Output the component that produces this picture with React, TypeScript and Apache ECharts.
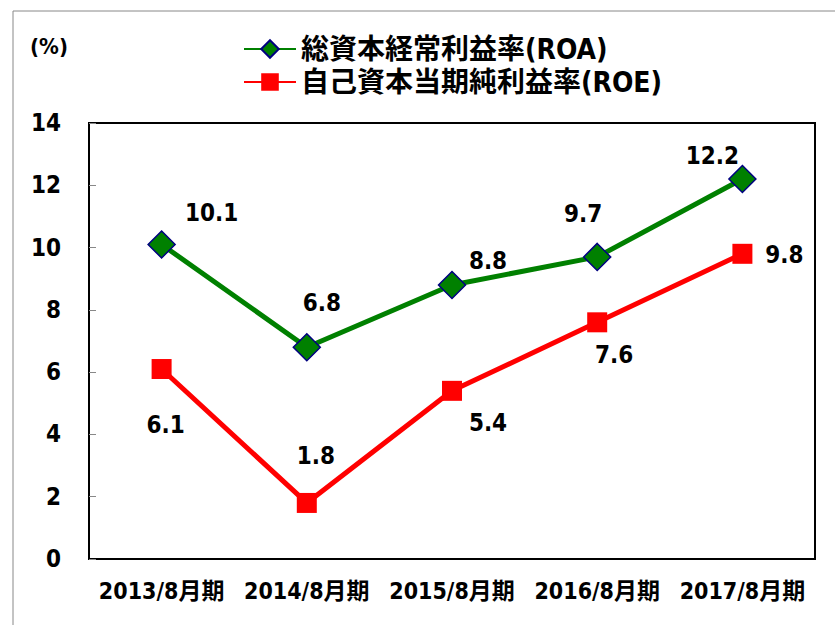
import React, { useEffect, useRef } from "react";
import * as echarts from "echarts";

const categories = ["2013/8月期", "2014/8月期", "2015/8月期", "2016/8月期", "2017/8月期"];
const roaName = "総資本経常利益率(ROA)";
const roeName = "自己資本当期純利益率(ROE)";
const roaValues = [10.1, 6.8, 8.8, 9.7, 12.2];
const roeValues = [6.1, 1.8, 5.4, 7.6, 9.8];
const roaLabelOffsets = [[50, -31], [15, -44], [36, -24], [-14, -43], [-30, -23]];
const roeLabelOffsets = [[4, 56], [9, -47], [36, 32], [17, 33], [42, 1]];

const FONT = "'Liberation Sans Narrow', 'DejaVu Sans Condensed', 'Noto Sans CJK JP', sans-serif";

export default function App() {
  const ref = useRef<HTMLDivElement>(null);
  useEffect(() => {
    if (!ref.current) return;
    const chart = echarts.init(ref.current, null, { renderer: "svg" });
    const labelStyle = { fontFamily: FONT, fontWeight: "bold" as const, fontSize: 24, color: "#000" };
    chart.setOption({
      animation: false,
      backgroundColor: "#fff",
      textStyle: { fontFamily: FONT },
      grid: { left: 89, right: 20, top: 123, bottom: 66, show: true, borderColor: "#000", borderWidth: 2, backgroundColor: "transparent" },
      legend: {
        orient: "vertical",
        left: 238,
        top: 30,
        itemWidth: 52,
        itemHeight: 22,
        itemGap: 5,
        textStyle: { fontFamily: FONT, fontWeight: "bold", fontSize: 28, color: "#000" },
        data: [roaName, roeName],
      },
      graphic: [
        { type: "rect", shape: { x: 13, y: 11, width: 1000, height: 1000 }, style: { fill: "none", stroke: "#888", lineWidth: 1 }, silent: true, z: -1 },
        { type: "text", left: 30, top: 35, style: { text: "(%)", fontFamily: FONT, fontWeight: "bold", fontSize: 22, fill: "#000" } },
      ],
      xAxis: {
        type: "category",
        data: categories,
        boundaryGap: true,
        axisLine: { lineStyle: { color: "#000", width: 2 } },
        axisTick: { inside: true, length: 8, interval: 0, lineStyle: { color: "#888" } },
        axisLabel: { interval: 0, margin: 20, fontFamily: FONT, fontWeight: "bold", fontSize: 23, color: "#000" },
        splitLine: { show: false },
      },
      yAxis: {
        type: "value",
        min: 0,
        max: 14,
        interval: 2,
        axisLine: { show: true, lineStyle: { color: "#000", width: 2 } },
        axisTick: { show: true, inside: true, length: 7, lineStyle: { color: "#888" } },
        axisLabel: { margin: 28, fontFamily: FONT, fontWeight: "bold", fontSize: 24, color: "#000" },
        splitLine: { show: false },
      },
      series: [
        {
          name: roaName,
          type: "line",
          data: roaValues.map((v, i) => ({
            value: v,
            label: { offset: roaLabelOffsets[i] },
          })),
          symbol: "diamond",
          symbolSize: 27,
          lineStyle: { color: "#008000", width: 5 },
          itemStyle: { color: "#008000", borderColor: "#000080", borderWidth: 1.5 },
          label: { show: true, position: "inside", formatter: (p: any) => p.value.toFixed(1), ...labelStyle },
          z: 3,
        },
        {
          name: roeName,
          type: "line",
          data: roeValues.map((v, i) => ({
            value: v,
            label: { offset: roeLabelOffsets[i] },
          })),
          symbol: "rect",
          symbolSize: 20,
          lineStyle: { color: "#ff0000", width: 5 },
          itemStyle: { color: "#ff0000", borderColor: "#ff0000", borderWidth: 0 },
          label: { show: true, position: "inside", formatter: (p: any) => p.value.toFixed(1), ...labelStyle },
          z: 2,
        },
      ],
    });
    return () => chart.dispose();
  }, []);
  return <div ref={ref} style={{ position: "fixed", left: 0, top: 0, width: 835, height: 625 }} />;
}
